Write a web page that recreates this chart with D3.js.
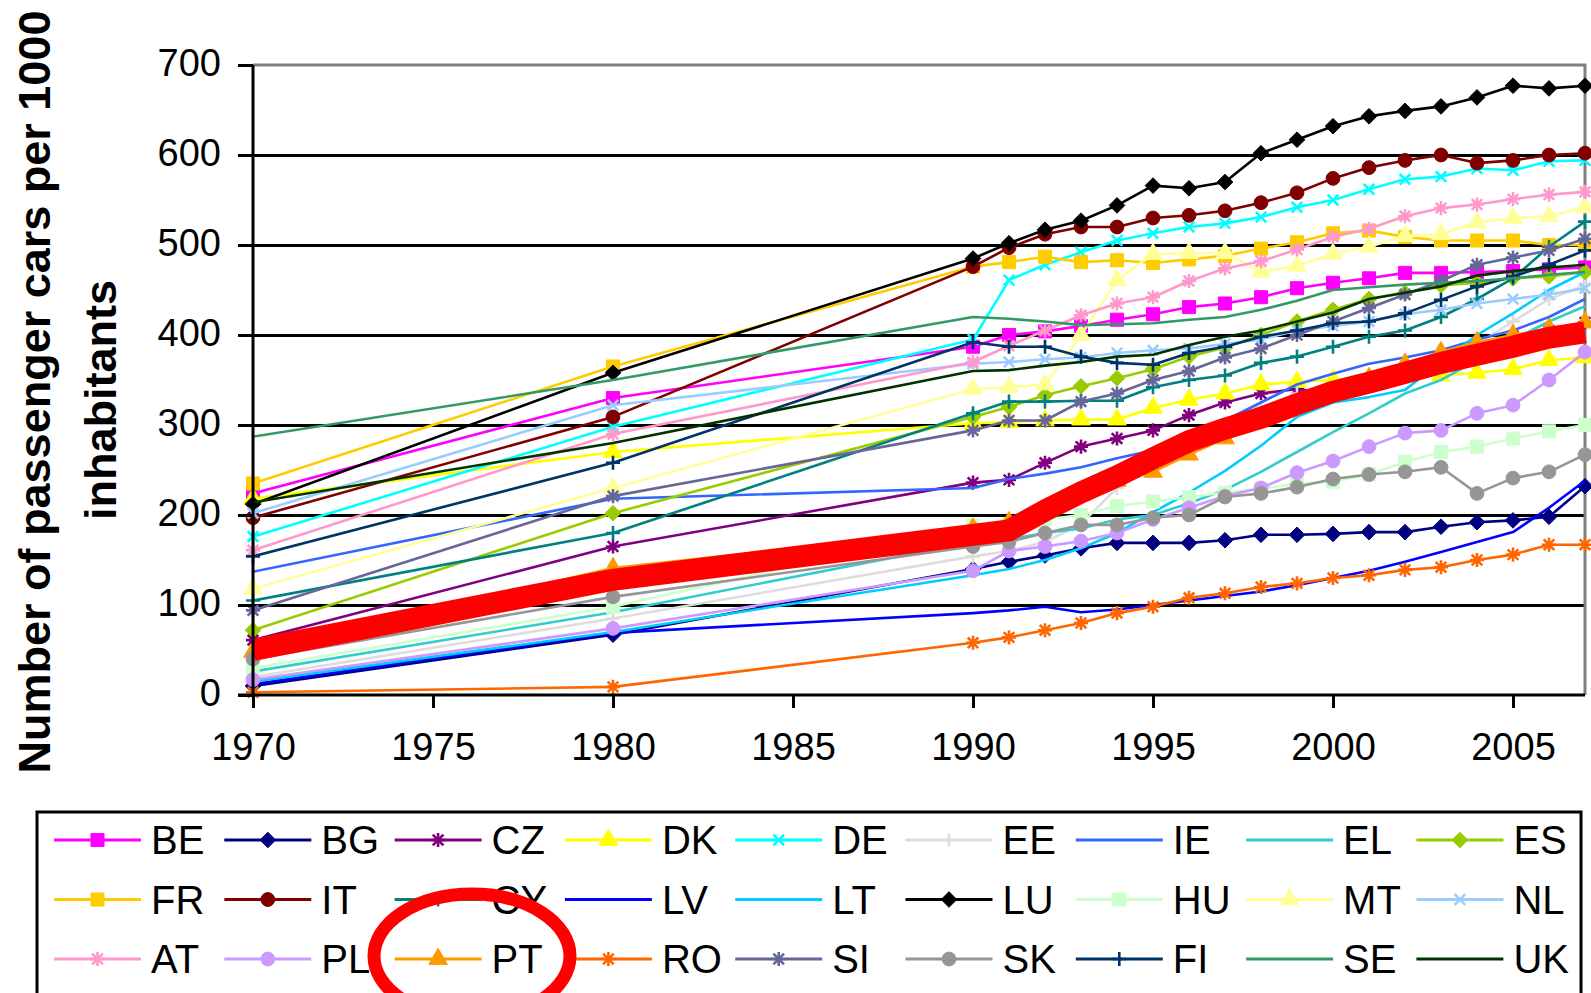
<!DOCTYPE html>
<html><head><meta charset="utf-8">
<script src="https://cdn.jsdelivr.net/npm/d3@7"></script>
<style>html,body{margin:0;padding:0;background:#fff;} svg{display:block;}</style>
</head><body>
<svg id="chart" width="1591" height="993"></svg>
<script>
// ---------- DATA ----------
const years = [1970,1980,1990,1991,1992,1993,1994,1995,1996,1997,1998,1999,2000,2001,2002,2003,2004,2005,2006,2007];
const yTickValues = [0,100,200,300,400,500,600,700];
const xTickValues = [1970,1975,1980,1985,1990,1995,2000,2005];
const countries = ["BE","BG","CZ","DK","DE","EE","IE","EL","ES","FR","IT","CY","LV","LT","LU","HU","MT","NL","AT","PL","PT","RO","SI","SK","FI","SE","UK"];

const BE = [224,330,387,400,404,410,417,423,431,435,442,452,458,463,469,469,470,471,473,475];
const BG = [10,67,140,148,155,163,169,169,169,172,178,178,179,181,181,187,192,194,198,232];
const CZ = [61,165,236,239,258,276,285,294,311,325,335,340,335,345,360,370,385,399,405,414];
const DK = [218,270,302,303,305,306,306,319,328,335,345,348,350,352,355,355,358,362,372,375];
const DE = [176,298,395,461,478,492,505,513,520,524,531,542,550,562,573,576,585,583,593,594];
const EE = [20,85,154,160,170,190,230,265,280,300,320,335,339,345,355,380,390,415,440,455];
const IE = [137,218,230,240,246,253,263,272,291,305,325,345,357,368,375,383,395,405,420,440];
const EL = [26,92,170,173,180,185,195,200,213,228,248,270,292,313,335,350,372,395,415,432];
const ES = [72,202,309,320,333,343,352,362,376,386,400,415,428,440,447,455,458,463,465,470];
const FR = [235,365,476,481,487,481,483,480,484,488,496,503,513,516,509,505,505,505,500,500];
const IT = [197,309,476,497,512,520,520,530,533,538,547,558,574,586,594,600,591,594,600,602];
const CY = [105,180,313,326,326,327,327,342,350,355,369,376,387,398,405,420,440,463,498,526];
const LV = [12,69,91,94,98,92,95,100,105,110,115,122,130,138,148,159,170,181,208,238];
const LT = [15,70,133,140,150,163,180,203,225,249,277,309,325,331,339,370,400,424,450,470];
const LU = [212,358,485,502,517,527,544,566,563,570,602,617,632,643,649,654,664,677,674,677];
const HU = [30,98,188,190,195,200,210,215,220,225,229,235,237,245,259,270,276,285,293,300];
const MT = [118,230,340,342,345,400,461,490,491,491,470,477,490,498,510,512,525,530,532,542];
const NL = [202,322,368,370,373,375,380,383,385,390,395,405,410,415,423,428,435,440,445,452];
const AT = [161,290,370,388,405,422,435,442,460,474,482,495,509,518,532,541,545,551,556,559];
const PL = [17,74,138,160,165,171,180,195,208,221,230,247,260,276,291,294,313,322,350,381];
const PT = [48,141,185,192,205,222,238,248,267,285,306,322,337,352,368,381,392,400,407,414];
const RO = [3,9,58,64,72,80,91,98,108,113,120,124,130,133,139,142,150,156,167,167];
const SI = [94,221,294,305,305,326,335,350,360,375,385,400,415,430,445,460,478,486,494,507];
const SK = [40,109,165,170,180,189,189,197,200,220,224,231,240,245,248,253,224,241,248,267];
const FI = [154,258,392,387,387,376,369,367,380,387,398,405,413,415,424,439,454,465,478,494];
const SE = [287,350,420,418,415,411,412,413,417,420,428,438,450,453,456,458,460,463,467,470];
const UK = [214,280,360,361,366,370,376,378,389,398,405,415,425,440,447,454,466,471,475,478];
// hand-drawn red highlight line
const highlight = [50,128,178,183,205,225,243,263,282,296,308,323,337,347,358,369,378,387,397,403];

const yTitle1 = "Number of passenger cars per 1000";
const yTitle2 = "inhabitants";

const seriesValues = {BE,BG,CZ,DK,DE,EE,IE,EL,ES,FR,IT,CY,LV,LT,LU,HU,MT,NL,AT,PL,PT,RO,SI,SK,FI,SE,UK};

// ---------- STYLES ----------
const style = {
  BE:{c:"#FF00FF",m:"square"}, BG:{c:"#000080",m:"diamond"}, CZ:{c:"#800080",m:"star"},
  DK:{c:"#FFFF00",m:"triangle"}, DE:{c:"#00FFFF",m:"x"}, EE:{c:"#DDDDDD",m:"plus"},
  IE:{c:"#3366FF",m:null}, EL:{c:"#33CCCC",m:null}, ES:{c:"#99CC00",m:"diamond"},
  FR:{c:"#FFCC00",m:"square"}, IT:{c:"#800000",m:"circle"}, CY:{c:"#008080",m:"plus"},
  LV:{c:"#0000FF",m:null}, LT:{c:"#00CCFF",m:null}, LU:{c:"#000000",m:"diamond"},
  HU:{c:"#CCFFCC",m:"square"}, MT:{c:"#FFFF99",m:"triangle"}, NL:{c:"#99CCFF",m:"x"},
  AT:{c:"#FF99CC",m:"star"}, PL:{c:"#CC99FF",m:"circle"}, PT:{c:"#FF9900",m:"triangle"},
  RO:{c:"#FF6600",m:"star"}, SI:{c:"#666699",m:"star"}, SK:{c:"#969696",m:"circle"},
  FI:{c:"#003366",m:"plus"}, SE:{c:"#339966",m:null}, UK:{c:"#003300",m:null}
};

const plusSym = {draw(ctx,size){const s=Math.sqrt(size)/2;ctx.moveTo(-s,0);ctx.lineTo(s,0);ctx.moveTo(0,-s);ctx.lineTo(0,s);}};
const xSym = {draw(ctx,size){const s=Math.sqrt(size)/2*0.75;ctx.moveTo(-s,-s);ctx.lineTo(s,s);ctx.moveTo(-s,s);ctx.lineTo(s,-s);}};
const starSym = {draw(ctx,size){plusSym.draw(ctx,size);xSym.draw(ctx,size);}};
const diamondSym = {draw(ctx,size){const s=Math.sqrt(size)/2*1.2;ctx.moveTo(0,-s);ctx.lineTo(s,0);ctx.lineTo(0,s);ctx.lineTo(-s,0);ctx.closePath();}};
const symTypes = {square:d3.symbolSquare, diamond:diamondSym, triangle:d3.symbolTriangle,
  circle:d3.symbolCircle, plus:plusSym, x:xSym, star:starSym};
const strokedMarkers = new Set(["plus","x","star"]);
const symSize = {square:170, diamond:170, triangle:150, circle:150, plus:200, x:200, star:200};

// ---------- CHART ----------
const svg = d3.select("#chart");
const font = "'Liberation Sans', Arial, sans-serif";
const x = d3.scaleLinear().domain([1970,2007]).range([253,1585]);
const y = d3.scaleLinear().domain([0,700]).range([695,65]);

// gridlines
const grid = svg.append("g").attr("transform",`translate(${x(1970)},0)`)
  .call(d3.axisLeft(y).tickValues(yTickValues.filter(v=>v>0&&v<700)).tickSize(-(x(2007)-x(1970))).tickFormat(""));
grid.select(".domain").remove();
grid.selectAll("line").attr("stroke","#000").attr("stroke-width",3);

// plot border (top and right) gray
svg.append("path")
  .attr("d",`M${x(1970)},${y(700)}H${x(2007)}V${y(0)}`)
  .attr("fill","none").attr("stroke","#808080").attr("stroke-width",3);

// series
const line = d3.line().x((d,i)=>x(years[i])).y(d=>y(d));
const gS = svg.append("g");
countries.forEach(k=>{
  const st = style[k], vals = seriesValues[k];
  gS.append("path").attr("d",line(vals)).attr("fill","none")
    .attr("stroke",st.c).attr("stroke-width",2.6).attr("stroke-linejoin","round");
  if(st.m){
    const sym = d3.symbol().type(symTypes[st.m]).size(symSize[st.m]);
    gS.append("g").selectAll("path").data(vals).join("path")
      .attr("transform",(d,i)=>`translate(${x(years[i])},${y(d)})`)
      .attr("d",sym)
      .attr("fill",strokedMarkers.has(st.m)?"none":st.c)
      .attr("stroke",st.c).attr("stroke-width",strokedMarkers.has(st.m)?2.6:1);
  }
});

// red highlight
svg.append("path").attr("d",line(highlight)).attr("fill","none")
  .attr("stroke","#FF0000").attr("stroke-width",22).attr("stroke-linejoin","miter").attr("stroke-linecap","butt");

// axes
const yAx = svg.append("g").attr("transform",`translate(${x(1970)},0)`)
  .call(d3.axisLeft(y).tickValues(yTickValues).tickSize(15).tickSizeOuter(0).tickPadding(17).tickFormat(d3.format("d")));
yAx.selectAll("line,path").attr("stroke","#000").attr("stroke-width",3);
yAx.select(".domain").attr("d",`M0,${y(700)}V${y(0)}`);
yAx.selectAll("text").attr("font-family",font).attr("font-size",38).attr("fill","#000").attr("dy","0.27em");

const xAx = svg.append("g").attr("transform",`translate(0,${y(0)})`)
  .call(d3.axisBottom(x).tickValues(xTickValues).tickSize(13).tickSizeOuter(0).tickPadding(25).tickFormat(d3.format("d")));
xAx.selectAll("line,path").attr("stroke","#000").attr("stroke-width",3);
xAx.select(".domain").attr("d",`M${x(1970)-15},0H${x(2007)}`);
xAx.selectAll("text").attr("font-family",font).attr("font-size",38).attr("fill","#000");

// y-axis title
const tY = (y(0)+y(700))/2 + 12;
svg.append("text").attr("transform",`translate(50,${tY}) rotate(-90)`)
  .attr("text-anchor","middle").attr("font-family",font).attr("font-weight","bold").attr("font-size",45)
  .text(yTitle1);
svg.append("text").attr("transform",`translate(116,${tY+8}) rotate(-90)`)
  .attr("text-anchor","middle").attr("font-family",font).attr("font-weight","bold").attr("font-size",45)
  .text(yTitle2);

// legend
svg.append("rect").attr("x",37).attr("y",812).attr("width",1544).attr("height",220)
  .attr("fill","none").attr("stroke","#000").attr("stroke-width",3);
const lg = svg.append("g");
countries.forEach((k,i)=>{
  const col = i%9, row = Math.floor(i/9);
  const lx = 54 + col*170.3, ly = 840 + row*59.5;
  const st = style[k];
  const g = lg.append("g");
  g.append("line").attr("x1",lx).attr("x2",lx+87).attr("y1",ly).attr("y2",ly)
    .attr("stroke",st.c).attr("stroke-width",3);
  if(st.m){
    g.append("path").attr("transform",`translate(${lx+43.5},${ly})`)
      .attr("d",d3.symbol().type(symTypes[st.m]).size(symSize[st.m])())
      .attr("fill",strokedMarkers.has(st.m)?"none":st.c)
      .attr("stroke",st.c).attr("stroke-width",strokedMarkers.has(st.m)?2.6:1);
  }
  g.append("text").attr("x",lx+97).attr("y",ly+14)
    .attr("font-family",font).attr("font-size",40).attr("fill","#000").text(k);
});

// red circle annotation around PT
svg.append("ellipse").attr("cx",472).attr("cy",956).attr("rx",98).attr("ry",62)
  .attr("fill","none").attr("stroke","#FF0000").attr("stroke-width",13);
</script>
</body></html>
